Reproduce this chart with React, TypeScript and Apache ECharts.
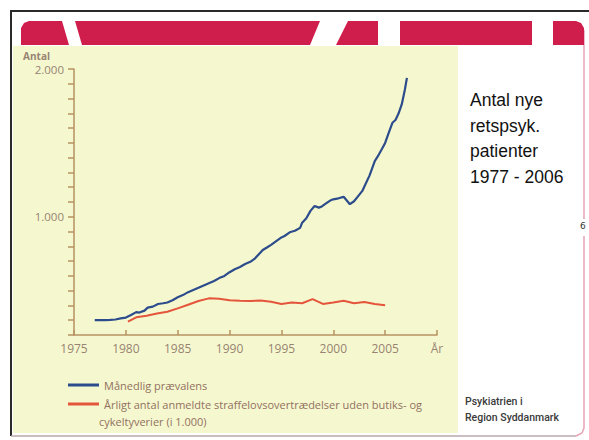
import React, { useEffect, useRef } from 'react';
import * as echarts from 'echarts';

const blueYears = [1977.0, 1977.5, 1978.0, 1978.5, 1979.0, 1979.5, 1980.0, 1980.5, 1981.0, 1981.3, 1981.8, 1982.1, 1982.6, 1983.1, 1983.6, 1984.0, 1984.5, 1985.0, 1985.5, 1986.0, 1986.5, 1987.0, 1987.5, 1988.0, 1988.5, 1989.0, 1989.5, 1990.0, 1990.5, 1991.0, 1991.5, 1992.0, 1992.4, 1992.8, 1993.2, 1993.6, 1994.0, 1994.5, 1995.0, 1995.3, 1995.8, 1996.3, 1996.8, 1997.0, 1997.4, 1997.8, 1998.2, 1998.6, 1998.9, 1999.3, 1999.7, 2000.0, 2000.5, 2001.0, 2001.3, 2001.6, 2002.0, 2002.4, 2002.8, 2003.1, 2003.5, 2004.0, 2004.3, 2004.7, 2005.0, 2005.3, 2005.7, 2006.0, 2006.3, 2006.6, 2006.9, 2007.1];
const blueValues = [300, 300, 300, 302, 305, 312, 318, 335, 355, 352, 365, 385, 392, 410, 415, 420, 435, 455, 470, 490, 505, 520, 535, 550, 565, 585, 600, 625, 645, 660, 680, 695, 715, 745, 775, 792, 810, 835, 860, 870, 895, 905, 925, 960, 990, 1040, 1073, 1062, 1070, 1090, 1110, 1118, 1125, 1135, 1110, 1085, 1105, 1140, 1175, 1220, 1280, 1377, 1410, 1460, 1500, 1560, 1636, 1655, 1700, 1760, 1860, 1940];

const redYears = [1980.2, 1981, 1982, 1983, 1984, 1985, 1986, 1987, 1988, 1989, 1990, 1991, 1992, 1993, 1994, 1995, 1996, 1997, 1998, 1999, 2000, 2001, 2002, 2003, 2004, 2005];
const redValues = [290, 320, 330, 345, 357, 380, 405, 430, 448, 445, 435, 432, 430, 433, 425, 410, 420, 415, 443, 410, 420, 432, 415, 424, 410, 402];

const blueName = 'Månedlig prævalens';
const redName = 'Årligt antal anmeldte straffelovsovertrædelser uden butiks- og cykeltyverier (i 1.000)';
const redLine1 = 'Årligt antal anmeldte straffelovsovertrædelser uden butiks- og';
const redLine2 = 'cykeltyverier (i 1.000)';
const titleLines = ['Antal nye', 'retspsyk.', 'patienter', '1977 - 2006'];
const footerLines = ['Psykiatrien i', 'Region Syddanmark'];

const AXIS = '#b69262';
const TXT = '#988372';
const RED = '#cf1d4c';
const LEG = '#93705f';

export default function App() {
  const ref = useRef<HTMLDivElement>(null);
  useEffect(() => {
    if (!ref.current) return;
    const chart = echarts.init(ref.current, undefined, { renderer: 'svg' });
    const blueData = blueYears.map((y, i) => [y, blueValues[i]]);
    const redData = redYears.map((y, i) => [y, redValues[i]]);
    const font = '"Open Sans", sans-serif';
    chart.setOption({
      animation: false,
      backgroundColor: '#ffffff',
      grid: { left: 74, top: 69, width: 363, height: 266, containLabel: false },
      xAxis: {
        type: 'value', min: 1975, max: 2010, interval: 5,
        axisLine: { lineStyle: { color: AXIS, width: 1.5 } },
        axisTick: { inside: true, length: 5, lineStyle: { color: AXIS, width: 1.5 } },
        splitLine: { show: false },
        axisLabel: {
          color: TXT, fontSize: 12, fontFamily: font, margin: 7,
          formatter: (v: number) => (v === 2010 ? 'År' : String(v)),
        },
      },
      yAxis: {
        type: 'value', min: 200, max: 2000, interval: 100,
        name: 'Antal', nameLocation: 'end', nameGap: 13,
        nameTextStyle: { color: TXT, fontSize: 10, fontWeight: 'bold', fontFamily: font, align: 'right', verticalAlign: 'middle', padding: [0, 24, 0, 0] },
        axisLine: { show: true, lineStyle: { color: AXIS, width: 1.5 } },
        axisTick: { show: true, length: 6, lineStyle: { color: AXIS, width: 1.5 } },
        splitLine: { show: false },
        axisLabel: {
          color: TXT, fontSize: 11.5, fontFamily: font, margin: 10,
          formatter: (v: number) => (v === 1000 ? '1.000' : v === 2000 ? '2.000' : ''),
        },
      },
      legend: {
        orient: 'vertical', left: 63, top: 373, itemWidth: 31, itemHeight: 3, itemGap: 5,
        icon: 'rect',
        textStyle: { color: LEG, fontSize: 11, fontFamily: font, lineHeight: 14 },
        formatter: (n: string) => (n === redName ? redLine1 : n),
        data: [blueName, redName],
      },
      series: [
        { name: blueName, type: 'line', data: blueData, showSymbol: false, symbol: 'none', lineStyle: { color: '#2c4c8c', width: 2.2 }, itemStyle: { color: '#2c4c8c' } },
        { name: redName, type: 'line', data: redData, showSymbol: false, symbol: 'none', lineStyle: { color: '#e4553c', width: 2 }, itemStyle: { color: '#e4553c' } },
      ],
      graphic: [
        { type: 'rect', z: -10, shape: { x: 13, y: 46, width: 445, height: 387 }, style: { fill: '#f5f8cf' } },
        { type: 'line', shape: { x1: 10, y1: 11, x2: 589, y2: 11 }, style: { stroke: '#2a2a2a', lineWidth: 2 } },
        { type: 'line', shape: { x1: 11, y1: 11, x2: 11, y2: 436 }, style: { stroke: '#2a2a2a', lineWidth: 2 } },
        { type: 'line', shape: { x1: 11, y1: 436, x2: 576, y2: 436 }, style: { stroke: '#b9a9ac', lineWidth: 1.5 } },
        { type: 'polyline', shape: { points: [[576, 436], [582, 433], [584, 428], [584, 236]] }, style: { stroke: '#e7a3b5', lineWidth: 1.5, fill: 'none' } },
        { type: 'line', shape: { x1: 584, y1: 219, x2: 584, y2: 30 }, style: { stroke: '#e7a3b5', lineWidth: 1.5 } },
        { type: 'polygon', shape: { points: [[21, 45], [21, 28], [24, 23], [29, 21], [62, 21], [69, 45]] }, style: { fill: RED } },
        { type: 'polygon', shape: { points: [[75, 21], [320, 21], [310, 45], [82, 45]] }, style: { fill: RED } },
        { type: 'polygon', shape: { points: [[348, 21], [378, 21], [378, 45], [336, 45]] }, style: { fill: RED } },
        { type: 'polygon', shape: { points: [[400, 21], [532, 21], [532, 45], [400, 45]] }, style: { fill: RED } },
        { type: 'polygon', shape: { points: [[553, 21], [576, 21], [581, 23], [584, 28], [584, 45], [553, 45]] }, style: { fill: RED } },
        ...titleLines.map((t, i) => ({
          type: 'text', left: 470, top: 91 + i * 25.5,
          style: { text: t, fill: '#111', fontSize: 17.5, fontFamily: '"Liberation Sans", Arial, sans-serif' },
        })),
        { type: 'text', left: 580, top: 221, style: { text: '6', fill: '#333', fontSize: 9, fontFamily: '"DejaVu Sans", sans-serif' } },
        ...footerLines.map((t, i) => ({
          type: 'text', left: 465, top: 396 + i * 15.5,
          style: { text: t, fill: '#3a3a3a', fontSize: 10.5, fontFamily: 'Roboto, sans-serif', fontWeight: 500 },
        })),
        { type: 'text', left: 99, top: 416, style: { text: redLine2, fill: LEG, fontSize: 11, fontFamily: font } },
      ],
    });
    return () => chart.dispose();
  }, []);
  return <div ref={ref} style={{ width: 589, height: 440, position: 'absolute', left: 0, top: 0 }} />;
}
